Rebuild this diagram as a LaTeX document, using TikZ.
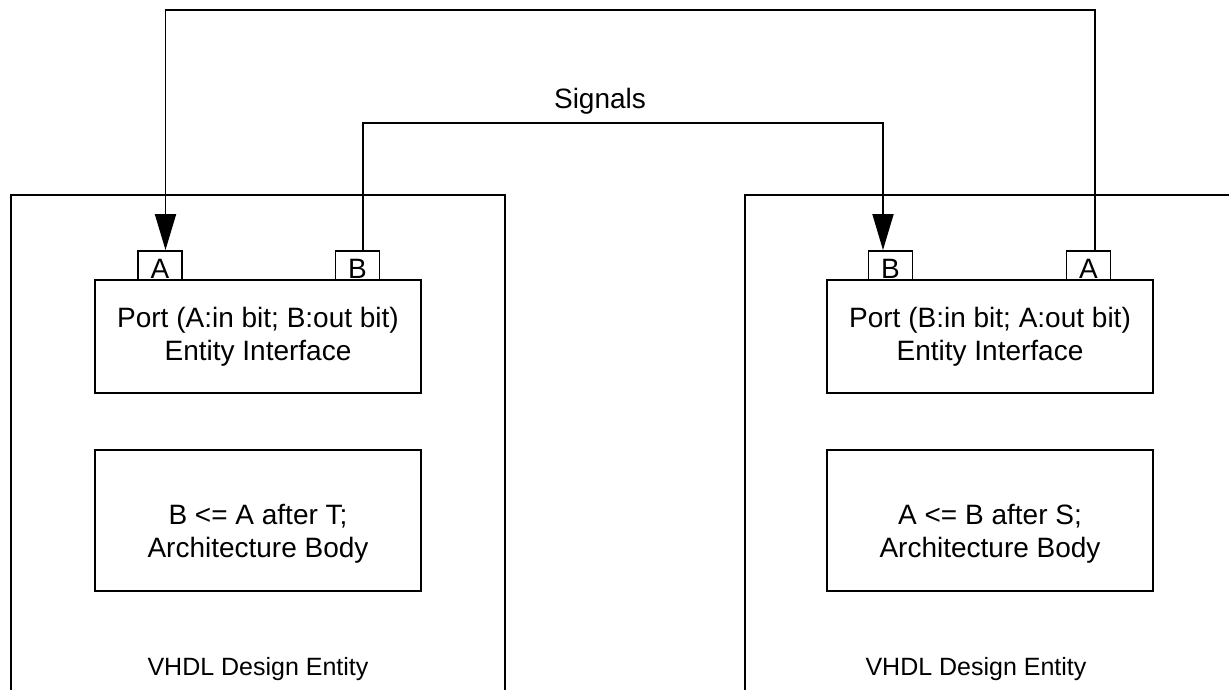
\documentclass[tikz,border=0pt]{standalone}
\usepackage{fontspec}
\setmainfont{Liberation Sans}
\usetikzlibrary{arrows.meta}
\begin{document}
\begin{tikzpicture}[x=1pt,y=-1pt,line width=1.9pt,
  txt/.style={font=\fontsize{28}{33}\selectfont, align=center, inner sep=0pt},
  enttxt/.style={font=\fontsize{25}{30}\selectfont, inner sep=0pt, anchor=base},
  blockbox/.style={draw, rectangle, inner sep=0pt, minimum width=326pt, txt},
  portbox/.style={draw, rectangle, inner sep=0pt, minimum width=44pt, minimum height=29pt, txt, text height=25pt, text depth=0pt},
  sigarrow/.style={-{Triangle[length=36pt,width=21pt]}}]
\useasboundingbox (0,0) rectangle (1229,689);
% outer design entities (open at the bottom / right)
\draw (11,700) -- (11,195) -- (505,195) -- (505,700);
\draw (1240,195) -- (745,195) -- (745,700);
% ports
\node[portbox] (pAL) at (160,265.5) {A};
\node[portbox] (pBL) at (357.5,265.5) {B};
\node[portbox] (pBR) at (890.5,265.5) {B};
\node[portbox] (pAR) at (1088.5,265.5) {A};
% entity interfaces
\node[blockbox, minimum height=113pt] (ifL) at (258,336.5) {Port (A:in bit; B:out bit)\\Entity Interface};
\node[blockbox, minimum height=113pt] (ifR) at (990,336.5) {Port (B:in bit; A:out bit)\\Entity Interface};
% architecture bodies
\node[blockbox, minimum height=141pt] (arL) at (258,520.5) {};
\node[blockbox, minimum height=141pt] (arR) at (990,520.5) {};
\node[txt] (arLt) at ([yshift=-13pt]arL.center) {B <= A after T;\\Architecture Body};
\node[txt] (arRt) at ([yshift=-13pt]arR.center) {A <= B after S;\\Architecture Body};
% entity labels
\node[enttxt] (entL) at (258,675) {VHDL Design Entity};
\node[enttxt] (entR) at (976,675) {VHDL Design Entity};
% signals
\coordinate (topwire) at (600,10);
\coordinate (sigwire) at (600,123);
\draw[sigarrow] ([xshift=6.5pt]pAR.north) |- (topwire) -| ([xshift=5.5pt]pAL.north);
\draw[sigarrow] ([xshift=5.5pt]pBL.north) |- (sigwire) -| ([xshift=-7.5pt]pBR.north);
\node[txt, anchor=base] (siglbl) at (600,108) {Signals};
\end{tikzpicture}
\end{document}
